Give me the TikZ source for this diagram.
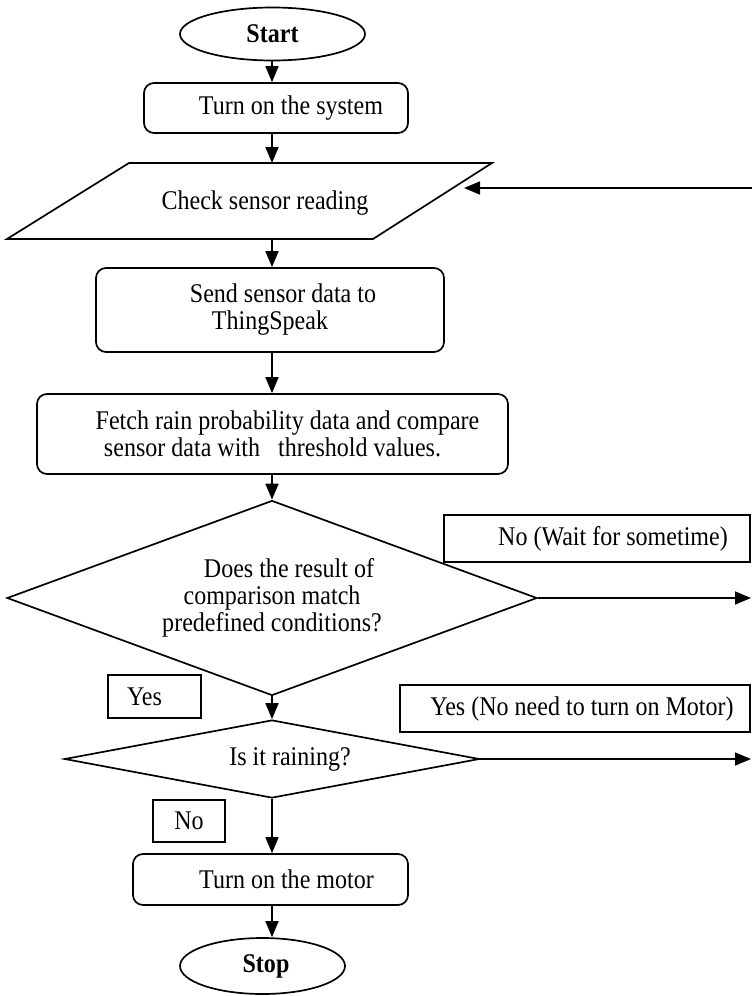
\documentclass[tikz,border=0pt]{standalone}
\usepackage{fontspec}
\setmainfont[FakeStretch=0.89]{Liberation Serif}
\usetikzlibrary{shapes.geometric,arrows.meta,calc}
\begin{document}
\begin{tikzpicture}[x=1pt,y=-1pt,
  every node/.style={font=\fontsize{27}{27}\selectfont, inner sep=0pt, align=center},
  base/.style={draw, line width=1.7pt},
  proc/.style={base, rectangle, rounded corners=10pt},
  term/.style={base, ellipse},
  dec/.style={base, diamond},
  lab/.style={base, rectangle},
  arr/.style={line width=1.7pt, -{Triangle[length=16pt,width=13pt]}}]
\useasboundingbox (0,0) rectangle (752,996);
\coordinate (ax) at (272,0);
% nodes
\node[term, minimum width=185pt, minimum height=53pt] (start) at (272.5,34) {\textbf{Start}};
\node[proc, minimum width=264pt, minimum height=50pt] (sys) at (276,108) {\hspace*{30pt}Turn on the system};
\draw[base, line join=miter] (129,163) -- (492,163) -- (373,239) -- (7,239) -- cycle;
\node (check) at (265,203) {Check sensor reading};
\coordinate (chkT) at (272,163);
\coordinate (chkB) at (272,239);
\coordinate (chkR) at (464,188);
\node[proc, minimum width=348pt, minimum height=84pt] (send) at (270,310) {\hspace*{26pt}Send sensor data to\\ThingSpeak};
\node[proc, minimum width=471pt, minimum height=80pt] (fetch) at (272.5,434) {\hspace*{30pt}Fetch rain probability data and compare\\sensor data with\ \ \ threshold values.};
\node[dec, aspect=2.7, minimum width=530pt, minimum height=195pt] (d1) at (272,598) {\hspace*{34pt}Does the result of\\comparison match\\predefined conditions?};
\node[dec, aspect=5.3, minimum width=415pt, minimum height=78pt] (d2) at (272,759) {\hspace*{36pt}Is it raining?};
\node[proc, minimum width=275pt, minimum height=51pt] (motor) at (270.5,879.5) {\hspace*{32pt}Turn on the motor};
\node[term, minimum width=165pt, minimum height=56pt] (stop) at (262.5,966) {\hspace*{7pt}\textbf{Stop}};
% labels
\node[lab, minimum width=306pt, minimum height=47pt] (nowait) at (597,538.5) {\hspace*{32pt}No (Wait for sometime)};
\node[lab, minimum width=93pt, minimum height=43pt] (yes1) at (154.5,696.5) {Yes\hspace*{20pt}};
\node[lab, minimum width=350pt, minimum height=47pt] (yesno) at (575,708.5) {\hspace*{14pt}Yes (No need to turn on Motor)};
\node[lab, minimum width=72pt, minimum height=42pt] (no2) at (189,821) {No};
% connectors
\coordinate (r0) at (752,188);
\coordinate (r1) at (751,598);
\coordinate (r2) at (751,759);
\draw[arr] (start.south -| ax) -- (sys.north -| ax);
\draw[arr] (sys.south -| ax) -- (chkT);
\draw[arr] (chkB) -- (send.north -| ax);
\draw[arr] (send.south -| ax) -- (fetch.north -| ax);
\draw[arr] (fetch.south -| ax) -- (d1.north);
\draw[arr] (d1.south) -- (d2.north);
\draw[arr] (d2.south) -- (motor.north -| ax);
\draw[arr] (motor.south -| ax) -- (stop.north -| ax);
\draw[arr] (d1.east) -- (r1);
\draw[arr] (d2.east) -- (r2);
\draw[arr] (r0) -- (chkR);
\end{tikzpicture}
\end{document}
